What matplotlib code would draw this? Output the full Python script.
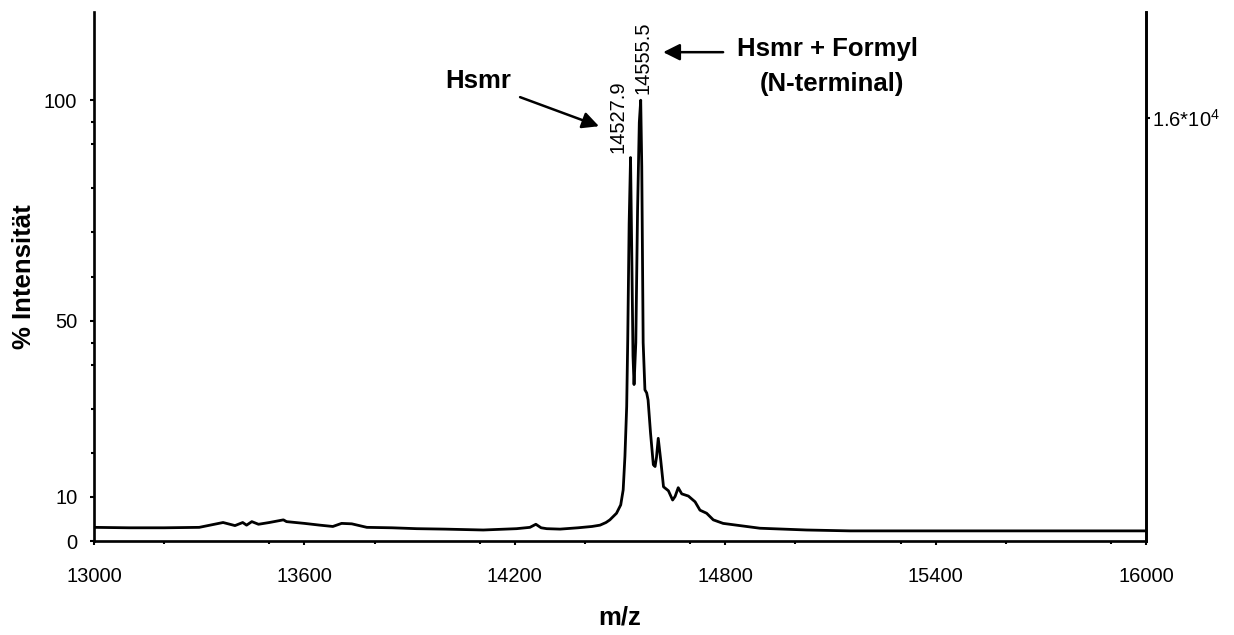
import matplotlib
matplotlib.use("Agg")
import matplotlib.pyplot as plt
from matplotlib.ticker import MultipleLocator, FixedLocator

plt.rcParams['font.family'] = ['Liberation Sans', 'DejaVu Sans']
plt.rcParams['mathtext.fontset'] = 'custom'
plt.rcParams['mathtext.rm'] = 'Liberation Sans'

# spectrum (m/z, % intensity)
mz = [13000, 13100, 13200, 13300, 13368, 13402, 13424, 13435, 13450, 13469,
      13500, 13540, 13549, 13600, 13644, 13681, 13706, 13735, 13778, 13850,
      13920, 14000, 14110, 14205, 14243, 14260, 14275, 14291, 14329, 14380,
      14420, 14443, 14460, 14471, 14490, 14502, 14509, 14514, 14519, 14522,
      14526, 14530, 14534, 14537, 14540, 14545, 14550, 14555, 14559, 14562,
      14566, 14571, 14576, 14580, 14587, 14595, 14600, 14604, 14609, 14616,
      14624, 14638, 14650, 14657, 14666, 14676, 14695, 14714, 14728, 14747,
      14766, 14794, 14832, 14899, 15032, 15156, 15412, 15792, 16000]
intensity = [3.1, 3.0, 3.0, 3.1, 4.2, 3.5, 4.2, 3.6, 4.4, 3.8,
             4.2, 4.8, 4.4, 4.0, 3.6, 3.3, 4.0, 3.9, 3.1, 3.0,
             2.8, 2.7, 2.5, 2.8, 3.1, 3.8, 3.0, 2.8, 2.7, 3.0,
             3.3, 3.6, 4.2, 4.8, 6.3, 8.2, 11.6, 19.2, 30.5, 45.7,
             72, 87, 62, 42, 35.5, 45, 75, 95, 100, 85,
             45, 34.3, 33.6, 32, 24.5, 17.3, 16.9, 19, 23.3, 18.4,
             12.3, 11.4, 9.3, 10.1, 12.1, 10.7, 10.2, 8.9, 7.0, 6.3,
             4.8, 4.0, 3.6, 2.9, 2.5, 2.3, 2.3, 2.3, 2.3]

x_ticks = [13000, 13600, 14200, 14800, 15400, 16000]
y_ticks = [0, 10, 50, 100]
y_minor = [20, 30, 40, 45, 60, 70, 80, 90, 95]
peak_labels = ["14527.9", "14555.5"]

fig = plt.figure(figsize=(12.34, 6.35), dpi=100)
ax = fig.add_axes([0.0762, 0.148, 0.8525, 0.833])

ax.plot(mz, intensity, color='black', lw=2.0, solid_joinstyle='round')

ax.set_xlim(13000, 16000)
ax.set_ylim(0, 120)
ax.set_xticks(x_ticks)
ax.xaxis.set_minor_locator(MultipleLocator(300))
ax.set_yticks(y_ticks)
ax.yaxis.set_minor_locator(FixedLocator(y_minor))
ax.tick_params(axis='both', which='both', direction='out', width=1.5, labelsize=14.5)
ax.tick_params(axis='both', which='major', length=3)
ax.tick_params(axis='both', which='minor', length=2)
ax.tick_params(axis='x', pad=16)
ax.tick_params(axis='y', pad=9)

ax.spines['top'].set_visible(False)
for s in ['left', 'bottom', 'right']:
    ax.spines[s].set_linewidth(1.9)

ax.set_ylabel('% Intensität', fontsize=18.5, fontweight='bold', labelpad=6)
ax.set_xlabel('m/z', fontsize=18.5, fontweight='bold', labelpad=14)

# right axis with the absolute scale
ax2 = ax.twinx()
ax2.set_ylim(0, 120)
ax2.set_yticks([96])
ax2.set_yticklabels([r'1.6*10$^\mathregular{4}$'])
ax2.tick_params(axis='y', length=3, width=1.5, pad=1, labelsize=14.5)
ax2.spines['top'].set_visible(False)
ax2.spines['right'].set_linewidth(1.9)

# peak labels
ax.text(14493, 88, peak_labels[0], rotation=90, ha='center', va='bottom', fontsize=14.5)
ax.text(14566, 101.5, peak_labels[1], rotation=90, ha='center', va='bottom', fontsize=14.5)

# annotations
ax.text(14095, 104.3, 'Hsmr', ha='center', va='center', fontsize=18.5, fontweight='bold')
ax.annotate('', xy=(14440, 94.1), xytext=(14215, 100.7),
            arrowprops=dict(arrowstyle='-|>', color='black', lw=1.8, mutation_scale=25,
                            shrinkA=0, shrinkB=0))
ax.annotate('', xy=(14623, 110.9), xytext=(14794, 110.9),
            arrowprops=dict(arrowstyle='-|>', color='black', lw=1.8, mutation_scale=25,
                            shrinkA=0, shrinkB=0))
ax.text(15093, 111.6, 'Hsmr + Formyl', ha='center', va='center', fontsize=18.5, fontweight='bold')
ax.text(15105, 103.6, '(N-terminal)', ha='center', va='center', fontsize=18.5, fontweight='bold')

fig.savefig('out.png', dpi=100)
